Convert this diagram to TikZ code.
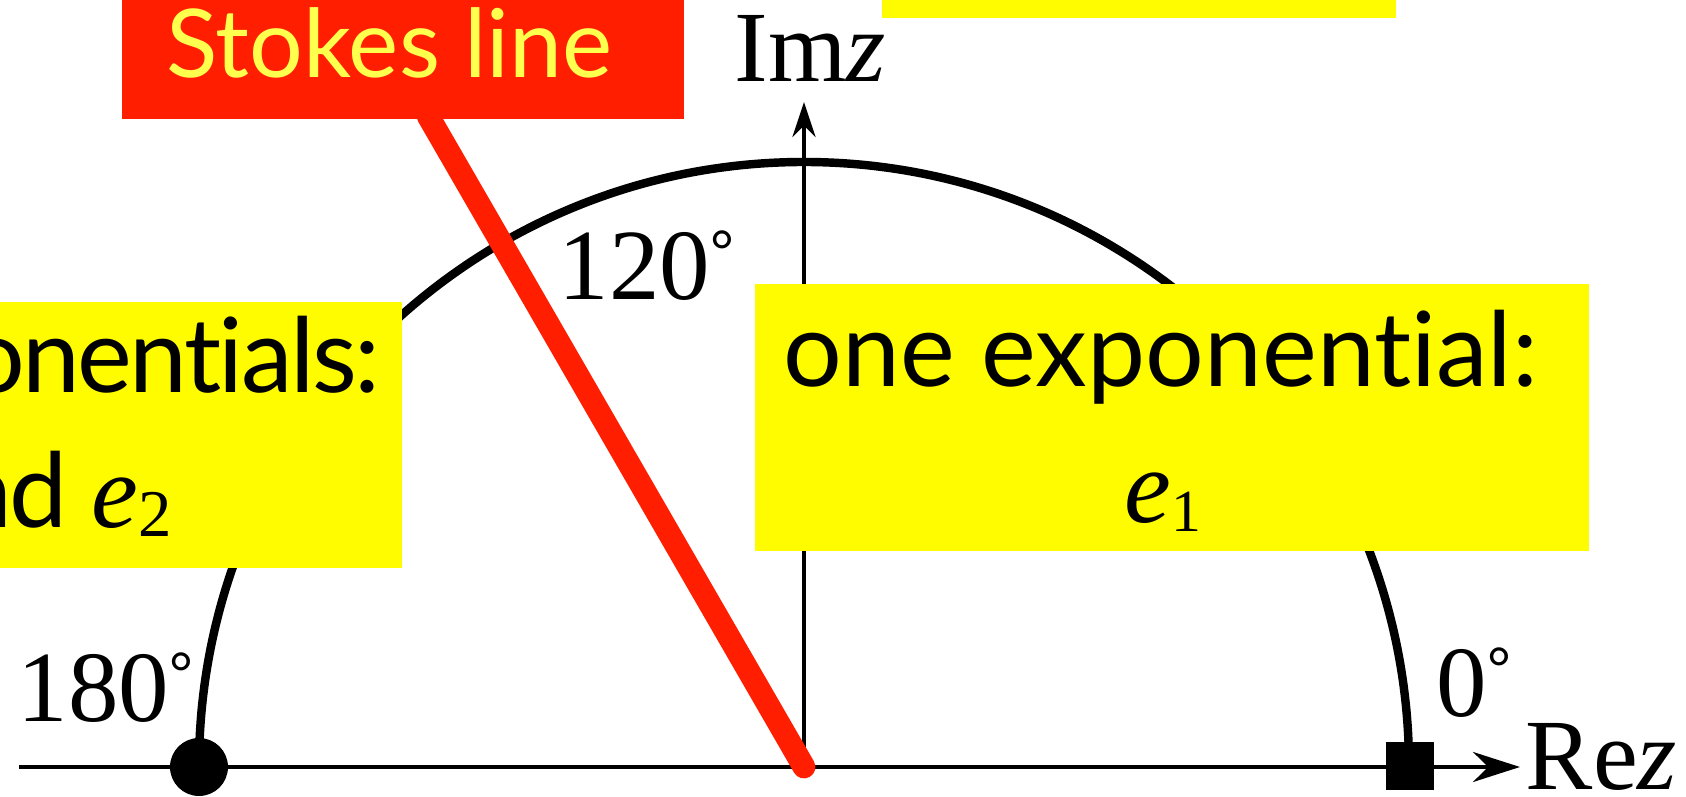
\documentclass[tikz,border=0pt]{standalone}
\usepackage{fontspec}
\setmainfont{Liberation Serif}
\newfontfamily\gillfont[Ligatures=NoCommon]{Lato}
\newfontfamily\gilltight[Ligatures=NoCommon,LetterSpace=-2.5]{Lato}
\usetikzlibrary{arrows.meta,positioning}
\definecolor{StokesRed}{HTML}{FF1E00}
\definecolor{StokesInk}{HTML}{FFFF4D}
\definecolor{NoteYellow}{HTML}{FFFC00}
\newcommand{\expo}[2][17]{{\rmfamily\fontsize{30}{32}\selectfont\itshape e\/\upshape\raisebox{-0.09cm}{\fontsize{#1}{18}\selectfont #2}}}
\newcommand{\degmark}{\raisebox{0.29cm}{\fontsize{17}{17}\selectfont\bfseries °}}
\tikzset{
  every picture/.style={line width=1.1pt},
  notebox/.style={fill=NoteYellow, inner sep=0pt},
  notetext/.style={font=\gillfont\fontsize{29.5}{31}\selectfont, inner sep=0pt, anchor=base},
  stokestext/.style={font=\gillfont\fontsize{27}{29}\selectfont, text=StokesInk, inner sep=0pt, anchor=base},
  axlabel/.style={font=\fontsize{28.7}{30}\selectfont, inner sep=0pt, anchor=base west},
  axarrow/.style={line width=1.15pt, -{Stealth[length=#1]}},
  contour/.style={line width=2.4pt},
  stokesline/.style={draw=StokesRed, line width=6.5pt, line cap=round}
}

\begin{document}
\begin{tikzpicture}
  \useasboundingbox (-8.04,-0.30) rectangle (8.82,7.67);
  \clip (-8.04,-0.30) rectangle (8.82,7.67);

  \coordinate (O) at (0,0);
  \coordinate (rexend) at (-7.85,0);
  \coordinate (retip) at (7.16,0);
  \coordinate (imtip) at (0,6.65);
  \coordinate (stokesend) at (120:7.52);

  % axes and the half circle
  \draw[axarrow={4.7mm, width=3mm}] (rexend) -- (retip);
  \draw[axarrow={3.5mm, width=2.3mm}] (O) -- (imtip);
  \draw[contour] (6.05,0) arc[start angle=0, end angle=180, radius=6.05];
  \draw[stokesline] (O) -- (stokesend);

  \node[circle, fill, minimum size=0.58cm, inner sep=0pt] (pole) at (-6.05,0) {};
  \node[fill, minimum size=0.48cm, inner sep=0pt] (zero) at (6.06,0.01) {};

  % boxes
  \node[notebox, minimum width=8.34cm, minimum height=2.67cm] (oneexp) at (3.68,3.495) {};
  \node[notebox, minimum width=8.40cm, minimum height=2.66cm] (twoexp) at (-8.22,3.32) {};
  \node[notebox, minimum width=5.14cm, minimum height=1cm] (topnote) at (3.35,7.99) {};
  \node[fill=StokesRed, minimum width=5.62cm, minimum height=1.32cm, inner sep=0pt] (stokesbox) at (-4.01,7.14) {};

  \node[notetext] (onetext) at (3.57,3.80) {one exponential:};
  \node[notetext, anchor=base] (onee) at (3.59,2.44) {\expo{1}};
  \node[notetext, font=\gilltight\fontsize{29.5}{31}\selectfont, anchor=base east] (twotext) at (-4.22,3.74) {two exponentials:};
  \node[notetext, font=\gilltight\fontsize{29.5}{31}\selectfont, anchor=base east] (twoe) at (-6.30,2.39) {\expo[19]{1} and \expo[19]{2}};
  \node[stokestext] (stokeslabel) at (-4.145,6.89) {Stokes line};

  % axis labels
  \node[axlabel] (imlabel) at (-0.71,6.85) {Im\textit{z}};
  \node[axlabel] (relabel) at (7.20,-0.23) {Re\textit{z}};
  \node[axlabel] (deg120) at (-2.47,4.67) {120\degmark};
  \node[axlabel] (deg180) at (-7.88,0.45) {180\degmark};
  \node[axlabel] (deg0) at (6.31,0.50) {0\degmark};
\end{tikzpicture}
\end{document}
